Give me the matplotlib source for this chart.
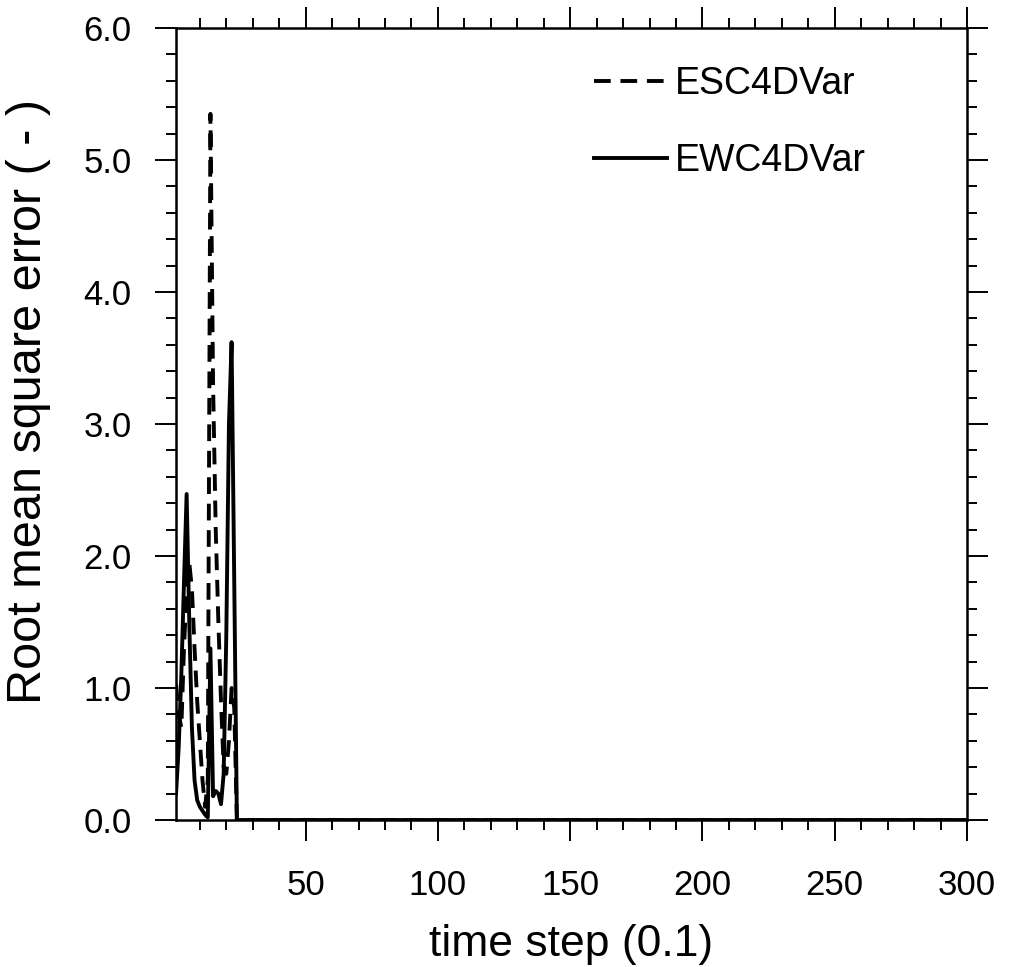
import numpy as np
import matplotlib.pyplot as plt
from matplotlib.ticker import MultipleLocator, FormatStrFormatter

plt.rcParams['font.family'] = ['Liberation Sans', 'DejaVu Sans']

# rmse per time step (zero after step 24)
esc_head = [1.03, 0.80, 0.70, 1.30, 1.75, 1.95, 1.75, 1.30, 0.90, 0.60,
            0.30, 0.10, 0.30, 5.35, 3.30, 2.20, 1.50, 0.90, 0.40, 0.35,
            0.60, 1.00, 0.85, 0.00]
ewc_head = [0.20, 0.55, 1.10, 1.80, 2.47, 1.50, 0.70, 0.30, 0.15, 0.10,
            0.07, 0.04, 0.02, 1.30, 0.18, 0.22, 0.20, 0.12, 0.35, 1.40,
            3.00, 3.62, 1.80, 0.00]
n_steps = 300
esc = esc_head + [0.0] * (n_steps - len(esc_head))
ewc = ewc_head + [0.0] * (n_steps - len(ewc_head))
steps = np.arange(1, n_steps + 1)

xticks = [50, 100, 150, 200, 250, 300]
yticks = [0, 1, 2, 3, 4, 5, 6]

fig = plt.figure(figsize=(10.1, 9.67), dpi=100)
ax = fig.add_axes([0.1743, 0.152, 0.7831, 0.819])

ax.plot(steps, esc, color='black', lw=2.8, linestyle=(0, (4.3, 2.5)), label='ESC4DVar')
ax.plot(steps, ewc, color='black', lw=2.8, label='EWC4DVar')

ax.set_xlim(1, 300)
ax.set_ylim(0, 6)
ax.set_xticks(xticks)
ax.set_yticks(yticks)
ax.yaxis.set_major_formatter(FormatStrFormatter('%.1f'))
ax.xaxis.set_minor_locator(MultipleLocator(10))
ax.yaxis.set_minor_locator(MultipleLocator(0.2))

ax.tick_params(which='both', direction='out', top=True, right=True,
               labeltop=False, labelright=False, width=1.4, colors='black')
ax.tick_params(which='major', length=15, labelsize=25)
ax.tick_params(which='minor', length=7.5)
ax.tick_params(axis='x', which='major', pad=20)
ax.tick_params(axis='y', which='major', pad=17)
for s in ax.spines.values():
    s.set_linewidth(1.8)

ax.set_xlabel('time step (0.1)', fontsize=32, labelpad=16)
ax.set_ylabel('Root mean square error ( - )', fontsize=35)
ax.yaxis.set_label_coords(-0.158, 0.528)

ax.legend(loc='upper left', bbox_to_anchor=(0.528, 0.952), frameon=False,
          fontsize=27, handlelength=1.95, handletextpad=0.22, labelspacing=1.1,
          borderpad=0, borderaxespad=0)

fig.savefig('out.png', dpi=100)
